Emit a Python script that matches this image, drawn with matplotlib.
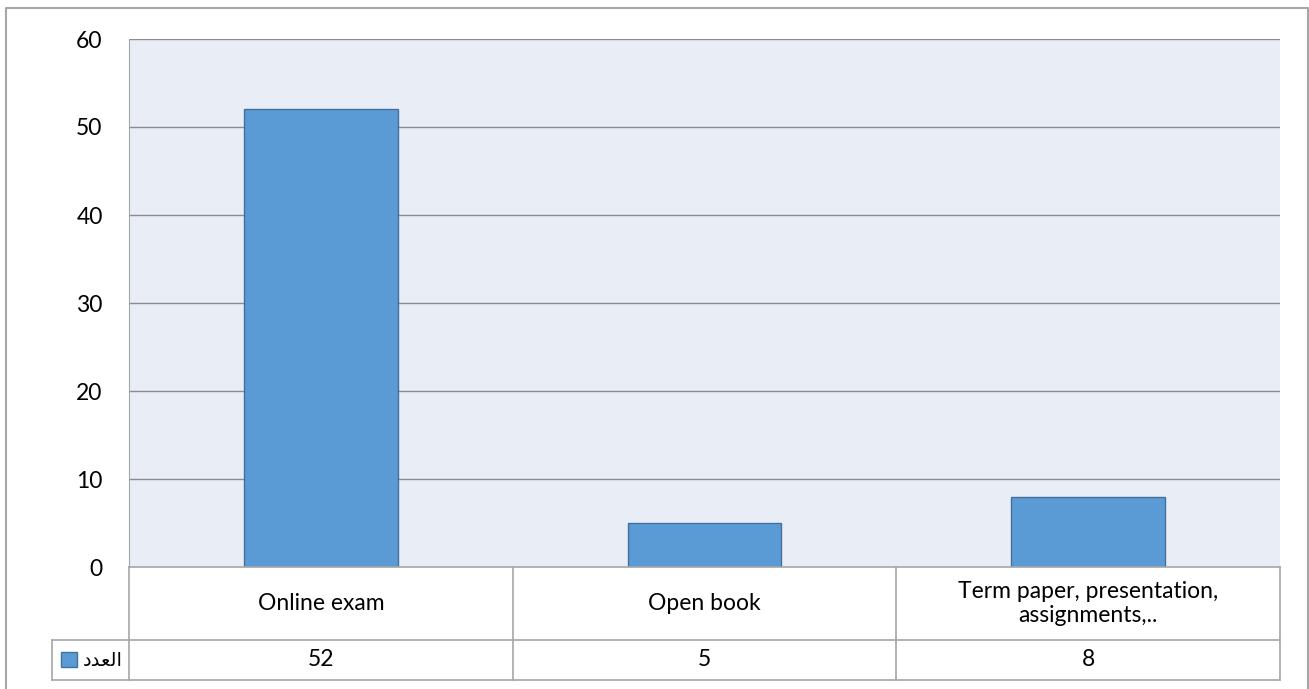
import numpy as np
import matplotlib.pyplot as plt
from matplotlib.patches import Rectangle

# data
categories = ['Online exam', 'Open book', 'Term paper, presentation,\nassignments,..']
counts = [52, 5, 8]
series_name = '\uFEA9\uFEAA\uFECC\uFEDF\uFE8D'  # "العدد" shaped, visual order
yticks = [0, 10, 20, 30, 40, 50, 60]

plt.rcParams['font.family'] = ['Lato', 'DejaVu Sans']

W, H = 1309, 689
fig = plt.figure(figsize=(W / 100, H / 100), dpi=100)

def px_rect(x0, y0, x1, y1):
    return [x0 / W, 1 - y1 / H, (x1 - x0) / W, (y1 - y0) / H]

grey = '#a6a6a6'
bar_color = '#5b9bd5'
edge_color = '#41719c'
fs = 16.5

# outer chart border
frame = fig.add_axes([0, 0, 1, 1])
frame.set_xlim(0, W)
frame.set_ylim(H, 0)
frame.axis('off')
frame.plot([6, 6, 1308, 1308], [H + 5, 8, 8, H + 5], color=grey, lw=1.5, clip_on=False)

# main plot
ax = fig.add_axes(px_rect(129, 39, 1280, 567))
ax.set_facecolor('#e9edf6')
x = np.arange(len(categories))
ax.bar(x, counts, width=0.4, color=bar_color, edgecolor=edge_color, linewidth=1, zorder=3)
ax.set_xlim(-0.5, len(categories) - 0.5)
ax.set_ylim(0, 60)
ax.set_yticks(yticks)
ax.set_yticklabels([str(v) for v in yticks], fontsize=fs)
ax.tick_params(axis='y', length=0, pad=19)
ax.set_xticks([])
for v in yticks[1:]:
    ax.axhline(v, color='#8c8c8c', lw=1, zorder=1)
for s in ['top', 'right', 'bottom']:
    ax.spines[s].set_visible(False)
ax.spines['left'].set_color(grey)

# data table under the plot
tax = fig.add_axes(px_rect(129, 567, 1280, 680))
tax.set_xlim(-0.5, len(categories) - 0.5)
tax.set_ylim(0, 113)
tax.axis('off')
row_split = 40
lw = 1.2
# horizontal lines
tax.plot([-0.5, 2.5], [113, 113], color=grey, lw=lw, clip_on=False)
tax.plot([-0.7, 2.5], [row_split, row_split], color=grey, lw=lw, clip_on=False)
tax.plot([-0.7, 2.5], [0, 0], color=grey, lw=lw, clip_on=False)
# vertical lines
for xv in np.arange(len(categories) + 1) - 0.5:
    tax.plot([xv, xv], [0, 113], color=grey, lw=lw, clip_on=False)
tax.plot([-0.7, -0.7], [0, row_split], color=grey, lw=lw, clip_on=False)

for i, (c, n) in enumerate(zip(categories, counts)):
    tax.text(i, (113 + row_split) / 2, c, ha='center', va='center', fontsize=fs,
             linespacing=1.15)
    tax.text(i, row_split / 2, str(n), ha='center', va='center', fontsize=fs)

# legend key in table
tax.add_patch(Rectangle((-0.676, 13), 0.04, 15, facecolor=bar_color,
                        edgecolor=edge_color, lw=1, clip_on=False))
tax.text(-0.515, row_split / 2, series_name, ha='right', va='center', fontsize=14,
         family=['DejaVu Sans'])

fig.savefig('out.png', dpi=100)
